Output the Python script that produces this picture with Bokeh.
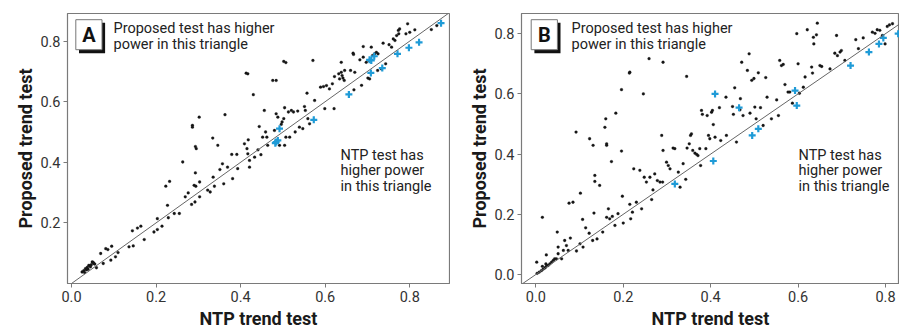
from bokeh.plotting import figure
from bokeh.layouts import row
from bokeh.models import Slope, Label, FixedTicker, Title
from bokeh.embed import file_html
from bokeh.resources import INLINE

# ---------------- data: panel A ----------------
a_ntp = [0.025, 0.029, 0.033, 0.037, 0.041, 0.045, 0.049, 0.053, 0.059, 0.031, 0.039, 0.047, 0.051, 0.043, 0.035, 0.055,
         0.069, 0.081, 0.086, 0.095, 0.075, 0.093, 0.104, 0.110, 0.136, 0.146, 0.144, 0.156, 0.164, 0.172,
         0.195, 0.203, 0.214, 0.203, 0.223, 0.232, 0.227, 0.229, 0.243, 0.255, 0.263, 0.269, 0.276, 0.284,
         0.286, 0.286, 0.293, 0.295, 0.293, 0.290, 0.294, 0.292, 0.302, 0.303, 0.303, 0.322, 0.328, 0.334,
         0.335, 0.338, 0.346, 0.351, 0.357, 0.360, 0.363, 0.369, 0.379, 0.381, 0.391, 0.393, 0.409, 0.413,
         0.417, 0.415, 0.418, 0.421, 0.421, 0.417, 0.430, 0.433, 0.441, 0.444, 0.448, 0.452, 0.456, 0.459,
         0.462, 0.464, 0.476, 0.484, 0.480, 0.484, 0.488, 0.492, 0.496, 0.498, 0.502, 0.504, 0.502, 0.507,
         0.507, 0.504, 0.513, 0.516, 0.520, 0.525, 0.529, 0.535, 0.539, 0.547, 0.551, 0.553, 0.559, 0.563,
         0.557, 0.571, 0.575, 0.589, 0.596, 0.599, 0.603, 0.610, 0.617, 0.621, 0.622, 0.632, 0.634, 0.638,
         0.638, 0.640, 0.642, 0.645, 0.646, 0.660, 0.666, 0.667, 0.668, 0.670, 0.682, 0.686, 0.690, 0.690,
         0.697, 0.701, 0.703, 0.705, 0.709, 0.712, 0.717, 0.721, 0.724, 0.725, 0.733, 0.737, 0.743, 0.751,
         0.757, 0.761, 0.765, 0.769, 0.773, 0.776, 0.774, 0.791, 0.795, 0.800, 0.812, 0.851, 0.864]
a_prop = [0.038, 0.042, 0.049, 0.053, 0.060, 0.055, 0.071, 0.066, 0.052, 0.036, 0.047, 0.062, 0.070, 0.058, 0.045, 0.064,
          0.099, 0.115, 0.112, 0.123, 0.066, 0.077, 0.088, 0.102, 0.121, 0.124, 0.174, 0.183, 0.189, 0.145,
          0.170, 0.178, 0.189, 0.214, 0.321, 0.337, 0.258, 0.217, 0.231, 0.231, 0.401, 0.286, 0.299, 0.261,
          0.522, 0.516, 0.452, 0.445, 0.365, 0.324, 0.321, 0.269, 0.549, 0.335, 0.286, 0.308, 0.302, 0.480,
          0.351, 0.321, 0.456, 0.376, 0.395, 0.329, 0.557, 0.384, 0.426, 0.346, 0.426, 0.379, 0.461, 0.694,
          0.692, 0.445, 0.474, 0.406, 0.384, 0.428, 0.623, 0.417, 0.441, 0.518, 0.425, 0.483, 0.571, 0.500,
          0.483, 0.456, 0.670, 0.670, 0.505, 0.560, 0.549, 0.456, 0.525, 0.533, 0.544, 0.580, 0.733, 0.729,
          0.483, 0.456, 0.566, 0.483, 0.571, 0.566, 0.500, 0.569, 0.516, 0.511, 0.584, 0.571, 0.544, 0.527,
          0.628, 0.736, 0.604, 0.648, 0.650, 0.577, 0.653, 0.642, 0.659, 0.577, 0.683, 0.692, 0.675, 0.730,
          0.697, 0.686, 0.678, 0.670, 0.703, 0.703, 0.760, 0.756, 0.639, 0.697, 0.738, 0.654, 0.782, 0.747,
          0.730, 0.678, 0.736, 0.675, 0.780, 0.752, 0.758, 0.763, 0.703, 0.758, 0.708, 0.793, 0.725, 0.788,
          0.780, 0.807, 0.802, 0.818, 0.835, 0.840, 0.824, 0.824, 0.857, 0.829, 0.837, 0.838, 0.851]
a_blue_ntp = [0.492, 0.484, 0.488, 0.482, 0.573, 0.656, 0.708, 0.709, 0.716, 0.705, 0.735, 0.771, 0.798, 0.822, 0.874]
a_blue_prop = [0.511, 0.467, 0.472, 0.463, 0.540, 0.624, 0.695, 0.736, 0.750, 0.738, 0.711, 0.758, 0.778, 0.796, 0.859]

# ---------------- data: panel B ----------------
b_ntp = [0.003, 0.008, 0.013, 0.017, 0.021, 0.024, 0.028, 0.032, 0.036, 0.040, 0.043, 0.015, 0.023, 0.002, 0.015, 0.024,
         0.047, 0.051, 0.049, 0.051, 0.059, 0.063, 0.066, 0.070, 0.074, 0.079, 0.076, 0.085, 0.092, 0.093,
         0.101, 0.102, 0.107, 0.108, 0.114, 0.122, 0.123, 0.130, 0.131, 0.133, 0.135, 0.135, 0.140, 0.146,
         0.153, 0.158, 0.160, 0.162, 0.162, 0.162, 0.166, 0.169, 0.173, 0.175, 0.181, 0.183, 0.188, 0.196,
         0.196, 0.198, 0.200, 0.214, 0.215, 0.215, 0.217, 0.221, 0.224, 0.230, 0.238, 0.242, 0.246, 0.248,
         0.253, 0.259, 0.261, 0.265, 0.268, 0.272, 0.278, 0.284, 0.288, 0.290, 0.291, 0.291, 0.299, 0.303,
         0.307, 0.314, 0.318, 0.326, 0.330, 0.337, 0.343, 0.345, 0.346, 0.351, 0.354, 0.356, 0.359, 0.364,
         0.368, 0.371, 0.375, 0.377, 0.379, 0.381, 0.389, 0.392, 0.395, 0.398, 0.402, 0.404, 0.406, 0.410,
         0.420, 0.423, 0.435, 0.436, 0.450, 0.452, 0.455, 0.459, 0.467, 0.468, 0.471, 0.474, 0.484, 0.488,
         0.490, 0.494, 0.499, 0.501, 0.504, 0.509, 0.514, 0.520, 0.526, 0.529, 0.539, 0.551, 0.555, 0.558,
         0.562, 0.566, 0.570, 0.577, 0.581, 0.587, 0.597, 0.600, 0.603, 0.612, 0.616, 0.621, 0.631, 0.633,
         0.635, 0.636, 0.642, 0.644, 0.650, 0.654, 0.673, 0.684, 0.688, 0.690, 0.696, 0.699, 0.707, 0.732,
         0.738, 0.749, 0.770, 0.776, 0.781, 0.787, 0.793, 0.799, 0.804, 0.809, 0.816]
b_prop = [0.004, 0.008, 0.013, 0.018, 0.022, 0.027, 0.030, 0.035, 0.041, 0.047, 0.052, 0.027, 0.035, 0.041, 0.190, 0.065,
          0.052, 0.069, 0.141, 0.091, 0.052, 0.080, 0.113, 0.096, 0.080, 0.121, 0.237, 0.240, 0.473, 0.078,
          0.102, 0.270, 0.183, 0.091, 0.155, 0.137, 0.451, 0.113, 0.429, 0.204, 0.329, 0.309, 0.118, 0.296,
          0.141, 0.489, 0.517, 0.434, 0.429, 0.190, 0.218, 0.185, 0.375, 0.193, 0.163, 0.536, 0.202, 0.410,
          0.614, 0.260, 0.171, 0.669, 0.672, 0.233, 0.185, 0.207, 0.351, 0.240, 0.346, 0.218, 0.600, 0.323,
          0.307, 0.717, 0.323, 0.249, 0.281, 0.334, 0.312, 0.307, 0.462, 0.307, 0.705, 0.412, 0.373, 0.362,
          0.351, 0.420, 0.418, 0.340, 0.290, 0.368, 0.316, 0.658, 0.420, 0.434, 0.462, 0.467, 0.412, 0.403,
          0.399, 0.395, 0.418, 0.362, 0.545, 0.532, 0.418, 0.528, 0.462, 0.451, 0.539, 0.545, 0.498, 0.456,
          0.554, 0.445, 0.589, 0.462, 0.558, 0.532, 0.620, 0.440, 0.547, 0.584, 0.705, 0.528, 0.678, 0.733,
          0.536, 0.645, 0.651, 0.556, 0.517, 0.670, 0.554, 0.495, 0.654, 0.589, 0.517, 0.580, 0.528, 0.711,
          0.694, 0.698, 0.631, 0.606, 0.606, 0.569, 0.800, 0.700, 0.602, 0.622, 0.656, 0.813, 0.689, 0.669,
          0.788, 0.766, 0.796, 0.835, 0.694, 0.691, 0.683, 0.735, 0.794, 0.727, 0.739, 0.744, 0.711, 0.780,
          0.750, 0.786, 0.805, 0.801, 0.813, 0.811, 0.794, 0.766, 0.824, 0.829, 0.833]
b_blue_ntp = [0.318, 0.406, 0.410, 0.465, 0.495, 0.509, 0.593, 0.597, 0.720, 0.762, 0.785, 0.795, 0.829]
b_blue_prop = [0.301, 0.377, 0.600, 0.554, 0.462, 0.484, 0.611, 0.561, 0.694, 0.739, 0.766, 0.786, 0.800]

tick_values = [0.0, 0.2, 0.4, 0.6, 0.8]
a_y_ticks = [0.2, 0.4, 0.6, 0.8]
tick_labels = {0.0: "0.0", 0.2: "0.2", 0.4: "0.4", 0.6: "0.6", 0.8: "0.8"}
x_title = "NTP trend test"
y_title = "Proposed trend test"
upper_text = ["Proposed test has higher", "power in this triangle"]
lower_text = ["NTP test has", "higher power", "in this triangle"]

FONT = "Roboto"
DOT = "#151515"
BLUE = "#1f9bd7"
GRAY = "#7a7a7a"

HEIGHT = 331
TOP = 13
BOTTOM = 48


def make_panel(xs, ys, bx, by, width, border_left, border_right, xr, yr, xticks, yticks,
               x_off, y_off):
    p = figure(width=width, height=HEIGHT, x_range=xr, y_range=yr,
               output_backend="svg", toolbar_location=None,
               min_border_left=border_left, min_border_right=border_right,
               min_border_top=TOP, min_border_bottom=BOTTOM)
    p.grid.visible = False
    p.outline_line_color = GRAY
    p.outline_line_width = 1.2
    p.background_fill_color = "white"
    p.border_fill_color = "white"

    for ax, tk in ((p.xaxis[0], xticks), (p.yaxis[0], yticks)):
        ax.ticker = FixedTicker(ticks=tk)
        ax.major_label_overrides = tick_labels
        ax.minor_tick_line_color = None
        ax.major_tick_in = 0
        ax.major_tick_out = 4
        ax.major_tick_line_color = GRAY
        ax.axis_line_color = GRAY
        ax.major_label_text_font = FONT
        ax.major_label_text_font_size = "14.5px"
        ax.major_label_text_color = "#333333"
    p.xaxis.major_label_standoff = 3
    p.yaxis.major_label_standoff = 3

    p.add_layout(Title(text=y_title, align="center", offset=y_off, standoff=4,
                       text_font=FONT, text_font_style="bold", text_font_size="18px",
                       text_color="#1a1a1a"), "left")
    p.add_layout(Title(text=x_title, align="center", offset=x_off, standoff=3,
                       text_font=FONT, text_font_style="bold", text_font_size="18px",
                       text_color="#1a1a1a"), "below")

    p.add_layout(Slope(gradient=1, y_intercept=0, line_color="#666666", line_width=1))
    p.scatter(xs, ys, marker="circle", size=2.8, fill_color=DOT, line_color=DOT, line_width=0.3)
    p.scatter(bx, by, marker="cross", size=7, line_color=BLUE, line_width=2.2)
    return p


def decorate(p, letter, width, bl, br, xr, yr, box_l, text_l, lower_l):
    frame_w = width - bl - br
    frame_h = HEIGHT - TOP - BOTTOM
    sx = frame_w / (xr[1] - xr[0])
    sy = frame_h / (yr[1] - yr[0])

    def X(d):  # pixels from frame left -> data
        return xr[0] + d / sx

    def Y(d):  # pixels from frame top -> data
        return yr[1] - d / sy
    p.quad(left=X(box_l + 3.2), right=X(box_l + 29.3), top=Y(9.2), bottom=Y(39.7),
           fill_color="#111111", line_color=None)
    p.quad(left=X(box_l), right=X(box_l + 26.2), top=Y(6.2), bottom=Y(36.2),
           fill_color="white", line_color="#777777", line_width=1)
    p.add_layout(Label(x=X(box_l + 13.1), y=Y(21.5), text=letter, text_align="center",
                       text_baseline="middle", text_font=FONT, text_font_style="bold",
                       text_font_size="20px", text_color="#111111"))
    for i, t in enumerate(upper_text):
        p.add_layout(Label(x=X(text_l), y=Y(14.5 + 16 * i), text=t, text_align="left",
                           text_baseline="middle", text_font=FONT, text_font_size="14.5px",
                           text_color="#222222"))
    for i, t in enumerate(lower_text):
        p.add_layout(Label(x=X(lower_l), y=Y(141.5 + 15.5 * i), text=t, text_align="left",
                           text_baseline="middle", text_font=FONT, text_font_size="14.5px",
                           text_color="#222222"))


A_W, A_BL, A_BR = 450, 67, 1
A_XR, A_YR = (-0.0095, 0.894), (0.0, 0.891)
pA = make_panel(a_ntp, a_prop, a_blue_ntp, a_blue_prop, A_W, A_BL, A_BR, A_XR, A_YR,
                tick_values, a_y_ticks, -5, 14)
decorate(pA, "A", A_W, A_BL, A_BR, A_XR, A_YR, 8.3, 46, 273)

B_W, B_BL, B_BR = 449, 71, 0
B_XR, B_YR = (-0.0328, 0.832), (-0.0299, 0.867)
pB = make_panel(b_ntp, b_prop, b_blue_ntp, b_blue_prop, B_W, B_BL, B_BR, B_XR, B_YR,
                tick_values, tick_values, -11, 13)
decorate(pB, "B", B_W, B_BL, B_BR, B_XR, B_YR, 9.7, 50, 277)

layout = row(pA, pB)
open("out.html", "w").write(file_html(layout, INLINE))
